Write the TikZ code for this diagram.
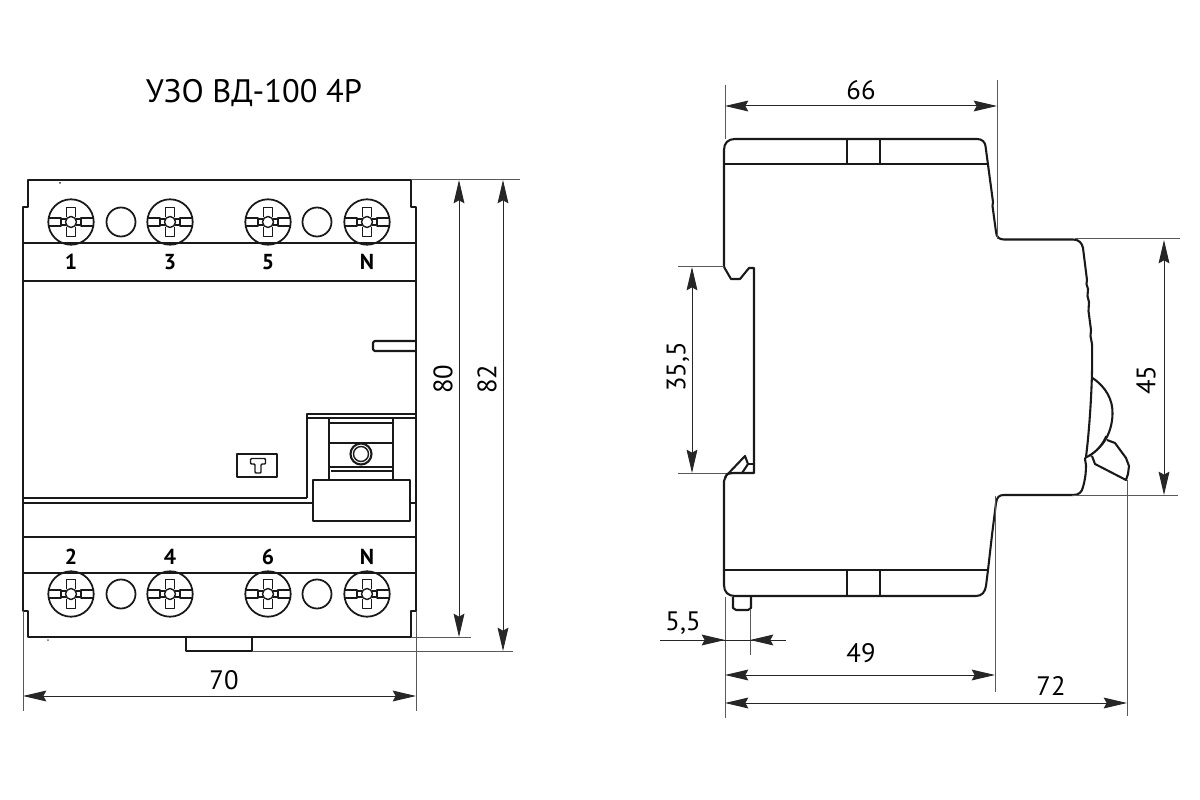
\documentclass[tikz,border=0pt]{standalone}
\usepackage{fontspec}
\setmainfont{PT Sans}
\usetikzlibrary{arrows.meta}

\tikzset{
	body/.style={line width=1.25pt, black!90, line join=round},
	detail/.style={line width=0.85pt, black!90, line join=round},
	extline/.style={line width=0.6pt, black!65},
	dimtip/.tip={Stealth[length=14pt,width=6.5pt,inset=1.8pt]},
	dimline/.style={line width=0.6pt, black!85, dimtip-dimtip},
	dimtext/.style={font=\fontsize{16}{16}\selectfont, inner sep=0pt},
	termtext/.style={font=\fontsize{13}{13}\selectfont\bfseries, inner sep=0pt},
	screw/.pic={
		\draw[body, line width=1.05pt] (0, 0) circle (22.7);
		\draw[detail] (-22, -4) -- (-10, -4) -- (-10, 4) -- (-22, 4);
		\draw[detail] (22, -4) -- (10, -4) -- (10, 4) -- (22, 4);
		\draw[detail] (-10, -3) -- (-5, -3) (-10, 3) -- (-5, 3);
		\draw[detail] (10, -3) -- (5, -3) (10, 3) -- (5, 3);
		\draw[detail] (-4.7, -5) -- (-4.7, -14.5) -- (4.7, -14.5) -- (4.7, -5);
		\draw[detail] (-4.7, 5) -- (-4.7, 14.5) -- (4.7, 14.5) -- (4.7, 5);
		\draw[detail] (0, 0) circle (5.5);
	}
}

\begin{document}
\begin{tikzpicture}[x=0.6pt, y=-0.6pt]
	\useasboundingbox (0, 0) rectangle (1200, 800);

	% front view
	\draw[body] (28, 207) -- (28, 180) -- (411, 180) -- (411, 207) -- (416, 207) -- (416, 611)
		-- (411, 611) -- (411, 637) -- (28, 637) -- (28, 611) -- (23, 611) -- (23, 207) -- cycle;
	\draw[body] (186, 637) -- (186, 651) -- (252, 651) -- (252, 637);
	\draw[body] (23, 243) -- (416, 243);
	\draw[body] (23, 281) -- (416, 281);
	\draw[body] (23, 537) -- (416, 537);
	\draw[body] (23, 573) -- (416, 573);
	\draw[body, line width=1.7pt] (23, 498) -- (307, 498);
	\draw[body] (23, 503) -- (313, 503);
	\draw[body] (410, 503) -- (416, 503);
	\draw[body, rounded corners=1] (416, 341) -- (373, 341) -- (373, 351) -- (416, 351);
	\fill[black!80] (60, 183) circle (1);
	\fill[black!60] (48, 640) circle (1);

	% test button and lever
	\draw[body] (307, 498) -- (307, 414) -- (416, 414);
	\draw[body] (307, 418) -- (416, 418);
	\draw[body] (329, 418) -- (329, 480);
	\draw[body] (393, 418) -- (393, 480);
	\draw[body] (329, 423) -- (393, 423);
	\draw[body] (329, 443) -- (393, 443);
	\draw[body] (329, 467) -- (393, 467);
	\draw[body] (331, 471) -- (392, 471);
	\draw[body] (361, 454) circle (10.5);
	\draw[detail] (361, 454) circle (7.5);
	\draw[body] (313, 480) rectangle (410, 521);
	\draw[body] (237, 454) rectangle (277, 477);
	\draw[detail, rounded corners=0.6] (250.5, 458.5) -- (265.5, 458.5) -- (265.5, 464) -- (261, 464) -- (261, 473)
		-- (255, 473) -- (255, 464) -- (250.5, 464) -- cycle;

	% terminals
	\pic at (71, 222) {screw};
	\pic at (170, 222) {screw};
	\pic at (268, 222) {screw};
	\pic at (367, 222) {screw};
	\pic at (71, 594) {screw};
	\pic at (170, 594) {screw};
	\pic at (268, 594) {screw};
	\pic at (367, 594) {screw};
	\draw[detail, line width=1.05pt] (121, 222) circle (14.5);
	\draw[detail, line width=1.05pt] (317, 222) circle (14.5);
	\draw[detail, line width=1.05pt] (121, 594) circle (14.5);
	\draw[detail, line width=1.05pt] (317, 594) circle (14.5);

	\node[termtext] (term1) at (71, 262) {1};
	\node[termtext] (term3) at (170, 262) {3};
	\node[termtext] (term5) at (268, 262) {5};
	\node[termtext] (termN) at (367, 262) {N};
	\node[termtext] (term2) at (71, 557) {2};
	\node[termtext] (term4) at (170, 557) {4};
	\node[termtext] (term6) at (268, 557) {6};
	\node[termtext] (termM) at (367, 557) {N};

	% front view dimensions
	\draw[extline] (411, 180) -- (520, 180);
	\draw[extline] (411, 637) -- (471, 637);
	\draw[extline] (252, 651) -- (513, 651);
	\draw[extline] (23, 611) -- (23, 711);
	\draw[extline] (416, 611) -- (416, 711);
	\draw[dimline] (459, 180) -- (459, 637);
	\draw[dimline] (503, 180) -- (503, 651);
	\draw[dimline] (23, 696) -- (416, 696);

	\node[dimtext, rotate=90] (dim80) at (443, 379) {80};
	\node[dimtext, rotate=90] (dim82) at (487, 379) {82};
	\node[dimtext] (dim70) at (224, 680) {70};
	\node[dimtext, font=\fontsize{19.5}{20}\selectfont] (title) at (254, 93) {УЗО ВД-100 4Р};

	% side view
	\draw[body] (724, 267) -- (724, 150) .. controls (724, 143) and (728, 139) .. (735, 139) -- (977, 139)
		.. controls (982, 139) and (985, 142) .. (985.5, 146) -- (993, 202) -- (992.5, 206) -- (996, 232)
		.. controls (996.5, 237) and (999, 239.5) .. (1004, 239.5) -- (1073, 239.5)
		.. controls (1079, 239.5) and (1082, 243) .. (1083, 248) -- (1087, 280) -- (1086.5, 284) -- (1088, 289)
		-- (1087.5, 296) -- (1089, 302) -- (1088.5, 311) -- (1091, 330) -- (1090.5, 336) -- (1092, 344)
		.. controls (1093, 375) and (1090, 425) .. (1086, 457) -- (1085, 459) -- (1086, 465)
		.. controls (1086, 475) and (1084.5, 482) .. (1083, 487)
		.. controls (1082, 492) and (1079, 495) .. (1073, 495) -- (1004, 495)
		.. controls (999, 495) and (997, 497) .. (996, 503) -- (992, 535) -- (988, 570) -- (986, 586)
		.. controls (985, 592) and (982, 596) .. (976, 596) -- (735, 596)
		.. controls (728, 596) and (724, 592) .. (724, 585) -- (724, 481) -- (726, 476);
	\draw[body] (724, 164) -- (988, 164);
	\draw[body] (724, 570) -- (988, 570);
	\draw[body] (847, 139) -- (847, 164);
	\draw[body] (880, 139) -- (880, 164);
	\draw[body] (847, 570) -- (847, 596);
	\draw[body] (880, 570) -- (880, 596);
	\draw[body] (733, 597) -- (733, 608) -- (736, 610) -- (748, 610) -- (751, 608) -- (751, 597);

	% din rail notch
	\draw[body] (724, 267) -- (731, 279) -- (740, 279) -- (749, 268) -- (754, 268) -- (754, 473)
		-- (733, 473) -- (727, 474) -- (725, 478);
	\draw[body] (726, 476) -- (745, 456) -- (748, 464) -- (742, 473);
	\draw[body] (748, 464) -- (754, 464);

	% toggle
	\draw[body] (1092.5, 378) .. controls (1106, 387) and (1113, 400) .. (1112.5, 414)
		.. controls (1112, 436) and (1100, 450) .. (1087, 457);
	\draw[detail] (1106, 436) .. controls (1102, 445) and (1097, 450) .. (1090, 456);
	\draw[body] (1107, 440) -- (1115, 443) -- (1126, 458) -- (1129, 466) -- (1128, 474) -- (1126, 480)
		-- (1095, 464) -- (1092, 456);

	% side view dimensions
	\draw[extline] (725, 85) -- (725, 139);
	\draw[extline] (997, 80) -- (997, 239);
	\draw[extline] (678, 267) -- (724, 267);
	\draw[extline] (678, 473) -- (726, 473);
	\draw[extline] (1075, 239) -- (1180, 239);
	\draw[extline] (1072, 495) -- (1178, 495);
	\draw[extline] (725, 597) -- (725, 718);
	\draw[extline] (750, 610) -- (750, 655);
	\draw[extline] (995, 496) -- (995, 692);
	\draw[extline] (1127, 480) -- (1127, 716);

	\draw[dimline] (725, 106) -- (997, 106);
	\draw[dimline] (692, 267) -- (692, 473);
	\draw[dimline] (1164, 240) -- (1164, 495);
	\draw[dimline] (725, 675) -- (995, 675);
	\draw[dimline] (725, 703) -- (1127, 703);
	\draw[extline, black!85] (660, 640) -- (786, 640);
	\draw[dimline, dimtip-] (725, 640) -- (702, 640);
	\draw[dimline, dimtip-] (750, 640) -- (775, 640);

	\node[dimtext] (dim66) at (861, 90) {66};
	\node[dimtext, rotate=90] (dim35) at (678, 367) {35,5};
	\node[dimtext, rotate=90] (dim45) at (1146, 380) {45};
	\node[dimtext] (dim55) at (683, 623) {5,5};
	\node[dimtext] (dim49) at (861, 653) {49};
	\node[dimtext] (dim72) at (1051, 686) {72};
\end{tikzpicture}
\end{document}
